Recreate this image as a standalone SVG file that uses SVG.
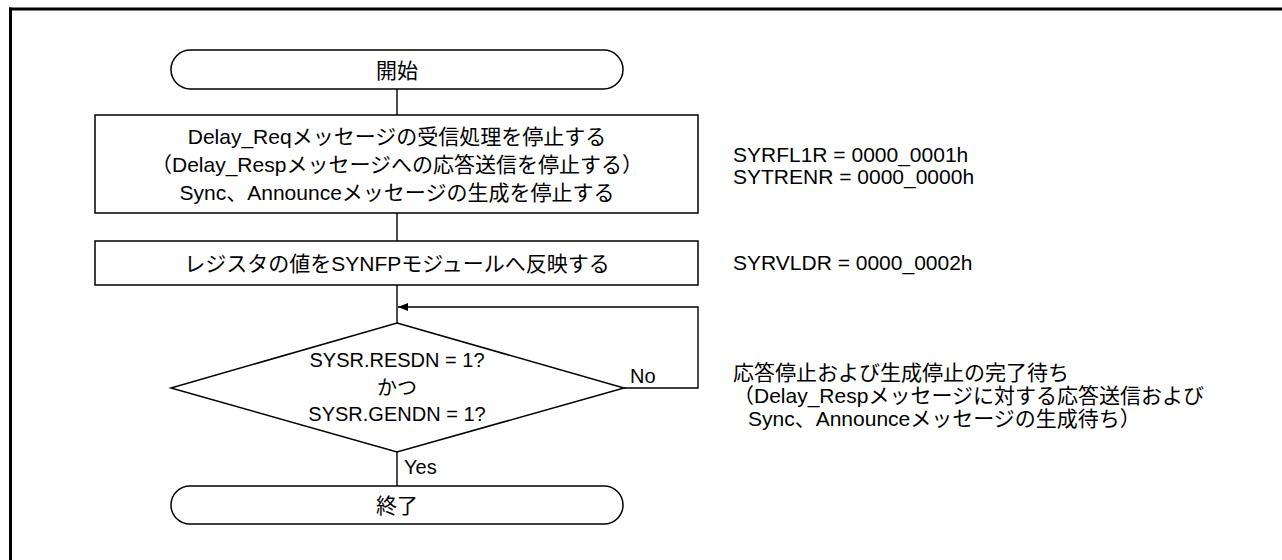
<svg xmlns="http://www.w3.org/2000/svg" width="1282" height="560" viewBox="0 0 1282 560">
  <style>
    .shape { fill: #ffffff; stroke: #000000; stroke-width: 1.5; }
    .conn { fill: none; stroke: #000000; stroke-width: 1.4; }
    .t { font-family: "Liberation Sans", "Noto Sans CJK JP", sans-serif; font-size: 21px; fill: #000000; dominant-baseline: central; }
    .d { font-size: 20px; }
    .c { text-anchor: middle; }
  </style>
  <defs>
    <marker id="arrow" markerWidth="10" markerHeight="8" refX="10" refY="4" orient="auto" markerUnits="userSpaceOnUse">
      <path d="M0,0 L10,4 L0,8 Z" fill="#000000"/>
    </marker>
  </defs>
  <rect x="0" y="0" width="1282" height="560" fill="#ffffff"/>
  <g id="frame">
    <line x1="9" y1="9" x2="1282" y2="9" stroke="#000" stroke-width="3"/>
    <line x1="10.5" y1="7.5" x2="10.5" y2="560" stroke="#000" stroke-width="3"/>
  </g>
  <g id="connectors">
    <line class="conn" x1="397" y1="89" x2="397" y2="115"/>
    <line class="conn" x1="397" y1="213" x2="397" y2="241"/>
    <line class="conn" x1="397" y1="285" x2="397" y2="323"/>
    <line class="conn" x1="397" y1="452" x2="397" y2="486"/>
    <polyline class="conn" points="624,388 698,388 698,307 398,307" marker-end="url(#arrow)"/>
    <text class="t d" x="630" y="376">No</text>
    <text class="t d" x="404" y="467">Yes</text>
  </g>
  <g id="start">
    <rect class="shape" x="171" y="50" width="452" height="39" rx="19.5" ry="19.5"/>
    <text class="t c" x="397" y="70">開始</text>
  </g>
  <g id="step1">
    <rect class="shape" x="95" y="115" width="603" height="98"/>
    <text class="t c" x="397" y="136">Delay_Reqメッセージの受信処理を停止する</text>
    <text class="t c" x="397" y="164">（Delay_Respメッセージへの応答送信を停止する）</text>
    <text class="t c" x="397" y="192">Sync、Announceメッセージの生成を停止する</text>
  </g>
  <g id="step2">
    <rect class="shape" x="95" y="241" width="603" height="44"/>
    <text class="t c" x="397" y="263">レジスタの値をSYNFPモジュールへ反映する</text>
  </g>
  <g id="decision">
    <polygon class="shape" points="397,323 624,388 397,452 171,388"/>
    <text class="t d c" x="397" y="360">SYSR.RESDN = 1?</text>
    <text class="t d c" x="397" y="388">かつ</text>
    <text class="t d c" x="397" y="414">SYSR.GENDN = 1?</text>
  </g>
  <g id="end">
    <rect class="shape" x="171" y="486" width="452" height="38" rx="19" ry="19"/>
    <text class="t c" x="397" y="505">終了</text>
  </g>
  <g id="notes">
    <text class="t" x="733" y="154">SYRFL1R = 0000_0001h</text>
    <text class="t" x="733" y="176">SYTRENR = 0000_0000h</text>
    <text class="t" x="733" y="262">SYRVLDR = 0000_0002h</text>
    <text class="t" x="733" y="372">応答停止および生成停止の完了待ち</text>
    <text class="t" x="733" y="395">（Delay_Respメッセージに対する応答送信および</text>
    <text class="t" x="748" y="418">Sync、Announceメッセージの生成待ち）</text>
  </g>
</svg>
